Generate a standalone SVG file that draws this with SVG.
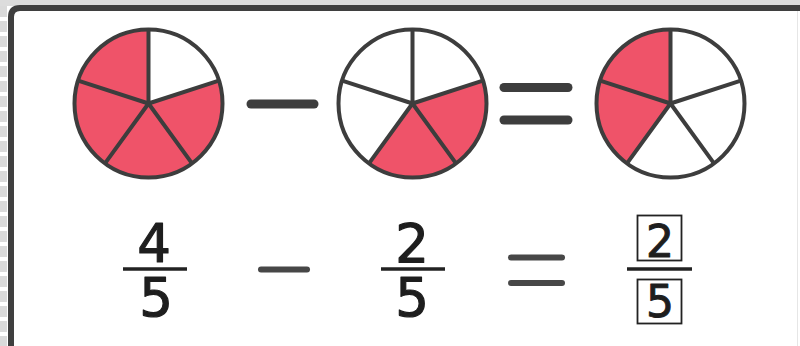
<svg xmlns="http://www.w3.org/2000/svg" width="800" height="346" viewBox="0 0 800 346">
  <style>
    .red { fill: #EF5369; }
    .outline { fill: none; stroke: #3d3d3d; stroke-width: 4; stroke-linejoin: round; }
    .op { stroke: #3d3d3d; stroke-width: 9; stroke-linecap: round; fill: none; }
    .op2 { stroke: #474747; stroke-width: 6; stroke-linecap: round; fill: none; }
    .bar { stroke: #222; stroke-width: 3.5; fill: none; }
    .num { font-family: "DejaVu Sans", sans-serif; font-size: 53px; fill: #1e1e1e; stroke: #1e1e1e; stroke-width: 1.2; stroke-linejoin: round; text-anchor: middle; }
    .numsm { font-family: "DejaVu Sans", sans-serif; font-size: 44px; fill: #1e1e1e; stroke: #1e1e1e; stroke-width: 1; stroke-linejoin: round; text-anchor: middle; }
    .box { fill: none; stroke: #222; stroke-width: 1.8; }
  </style>
  <defs>
    <path id="s1" d="M0,0 L0,-74 A74,74 0 0 1 70.38,-22.87 Z"/>
    <path id="s2" d="M0,0 L70.38,-22.87 A74,74 0 0 1 43.5,59.87 Z"/>
    <path id="s3" d="M0,0 L43.5,59.87 A74,74 0 0 1 -43.5,59.87 Z"/>
    <path id="s4" d="M0,0 L-43.5,59.87 A74,74 0 0 1 -70.38,-22.87 Z"/>
    <path id="s5" d="M0,0 L-70.38,-22.87 A74,74 0 0 1 0,-74 Z"/>
    <g id="pieframe">
      <circle cx="0" cy="0" r="74" class="outline"/>
      <path class="outline" d="M0,-74 L0,0 L70.38,-22.87 M0,0 L43.5,59.87 M0,0 L-43.5,59.87 M0,0 L-70.38,-22.87"/>
    </g>
  </defs>

  <!-- background -->
  <rect x="0" y="0" width="800" height="346" fill="#ffffff"/>
  <rect x="0" y="0" width="800" height="6" fill="#dcdcdc"/>
  <line x1="3.5" y1="6" x2="3.5" y2="346" stroke="#dadada" stroke-width="7" stroke-dasharray="11 4"/>
  <line x1="797.5" y1="10" x2="797.5" y2="346" stroke="#e6e6e6" stroke-width="1"/>
  <!-- frame -->
  <path d="M11,346 L11,17 Q11,8 20,8 L800,8" fill="none" stroke="#3f3f3f" stroke-width="6"/>

  <g id="pie1" transform="translate(148.5,103.5)">
    <use href="#s2" class="red"/>
    <use href="#s3" class="red"/>
    <use href="#s4" class="red"/>
    <use href="#s5" class="red"/>
    <use href="#pieframe"/>
  </g>
  <g id="pie2" transform="translate(412.5,103.5)">
    <use href="#s2" class="red"/>
    <use href="#s3" class="red"/>
    <use href="#pieframe"/>
  </g>
  <g id="pie3" transform="translate(670.5,103.5)">
    <use href="#s4" class="red"/>
    <use href="#s5" class="red"/>
    <use href="#pieframe"/>
  </g>

  <g id="minus-top"><line class="op" x1="251" y1="104" x2="314" y2="104"/></g>
  <g id="equals-top">
    <line class="op" x1="504" y1="87.5" x2="568" y2="87.5"/>
    <line class="op" x1="504" y1="120" x2="568" y2="120"/>
  </g>

  <g id="frac1">
    <text class="num" x="154" y="262">4</text>
    <line class="bar" x1="123" y1="269" x2="187" y2="269"/>
    <text class="num" x="156" y="316">5</text>
  </g>
  <g id="minus-bottom"><line class="op2" x1="261" y1="269.5" x2="307" y2="269.5"/></g>
  <g id="frac2">
    <text class="num" x="412" y="262">2</text>
    <line class="bar" x1="381" y1="269" x2="445" y2="269"/>
    <text class="num" x="412" y="316">5</text>
  </g>
  <g id="equals-bottom">
    <line class="op2" x1="511" y1="257.5" x2="562" y2="257.5"/>
    <line class="op2" x1="511" y1="283" x2="562" y2="283"/>
  </g>
  <g id="frac3">
    <rect class="box" x="637.5" y="215.5" width="44" height="45"/>
    <text class="numsm" x="660" y="257">2</text>
    <line class="bar" x1="627" y1="269" x2="692" y2="269"/>
    <rect class="box" x="637.5" y="279.5" width="44" height="44"/>
    <text class="numsm" x="660" y="317">5</text>
  </g>
</svg>
